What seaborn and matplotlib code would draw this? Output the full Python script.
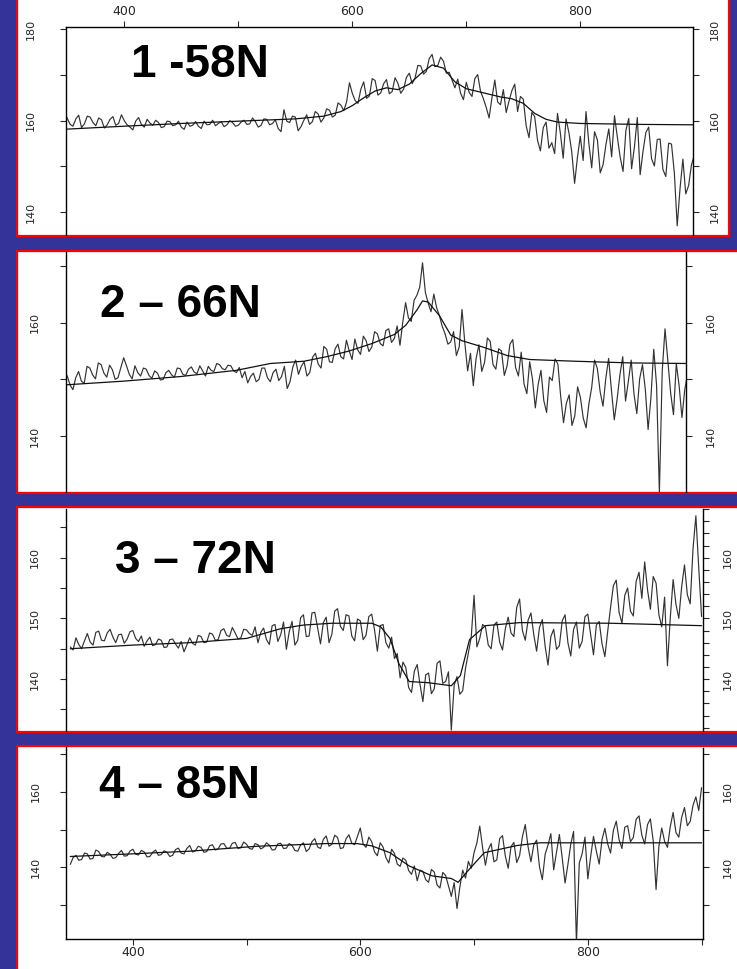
import matplotlib
matplotlib.use("Agg")
import matplotlib.pyplot as plt
from matplotlib.patches import Rectangle
import seaborn as sns
import pandas as pd

# ---------------- data ----------------
# wavelength grid (nm), 2.5 nm sampling from 345 to 900
wavelength = [345 + 2.5 * k for k in range(223)]

p1_obs = [159.0, 161.8, 160.5, 159.2, 158.8, 160.4, 161.2, 158.5, 159.3, 161.0,
          160.8, 159.6, 158.9, 160.6, 160.2, 158.4, 159.1, 160.3, 160.9, 159.0,
          159.4, 161.3, 160.0, 159.1, 158.6, 158.0, 159.9, 160.7, 159.2, 158.6,
          160.3, 159.5, 159.0, 160.1, 159.6, 158.5, 158.7, 159.9, 159.8, 158.9,
          159.1, 159.9, 158.6, 158.1, 159.7, 158.8, 159.0, 159.8, 158.8, 158.3,
          159.9, 159.1, 159.2, 160.1, 158.9, 159.4, 159.8, 158.7, 159.1, 160.0,
          159.6, 158.8, 159.0, 159.7, 160.1, 159.2, 159.3, 160.6, 159.8, 158.6,
          159.0, 160.4, 160.3, 159.1, 159.4, 160.2, 158.3, 157.6, 162.4, 159.9,
          159.6, 161.0, 160.8, 157.8, 158.7, 160.1, 161.3, 159.2, 159.8, 162.0,
          161.5, 159.7, 160.6, 162.6, 162.3, 160.8, 161.2, 163.9, 163.4, 162.2,
          164.1, 168.3, 166.0, 164.4, 163.8, 166.9, 168.5, 164.9, 165.4, 169.2,
          168.8, 165.6, 166.1, 168.1, 169.0, 165.9, 166.4, 169.4, 168.2, 166.0,
          166.9, 169.5, 170.4, 168.1, 169.3, 172.1, 172.0, 170.2, 170.8, 173.6,
          174.5, 171.8, 172.1, 173.9, 173.0, 170.4, 170.6, 168.9, 167.2, 169.1,
          166.0, 164.6, 168.4, 166.2, 165.3, 169.2, 170.1, 166.4, 164.8, 162.9,
          160.6, 165.0, 168.9, 164.1, 163.5, 166.8, 161.8, 164.3, 166.6, 168.0,
          162.0, 165.3, 164.7, 158.9, 156.3, 161.8, 160.9, 155.7, 153.4, 158.5,
          159.7, 154.0, 155.2, 152.8, 161.6, 157.3, 151.8, 160.4, 157.4, 153.2,
          146.3, 152.0, 156.6, 151.3, 162.0, 155.1, 149.7, 157.6, 155.8, 148.6,
          150.4, 154.8, 158.2, 152.1, 161.1, 156.4, 152.0, 148.9, 157.9, 160.5,
          149.5, 154.3, 160.7, 148.2, 153.3, 157.4, 158.6, 151.7, 150.1, 155.9,
          156.0, 149.3, 147.8, 155.1, 154.9, 148.6, 137.0, 145.2, 151.6, 144.0,
          145.8, 150.3, 152.5]
p1_fit_x = [345, 400, 450, 500, 550, 575, 590, 600, 610, 620, 630, 640, 650, 660, 670, 680,
            690, 700, 710, 720, 730, 740, 750, 760, 770, 780, 800, 850, 900]
p1_fit = [158.1, 158.8, 159.4, 159.9, 160.4, 161.0, 162.0, 163.3, 165.0, 166.5, 167.2, 166.8,
          168.0, 170.3, 172.2, 171.5, 168.5, 167.0, 166.4, 165.8, 165.2, 164.8, 163.8, 161.6,
          160.3, 159.7, 159.4, 159.2, 159.1]

p2_obs = [149.5, 151.2, 150.6, 149.0, 148.2, 150.3, 151.4, 149.7, 149.3, 152.3,
          152.0, 150.8, 150.1, 152.9, 152.6, 151.1, 150.4, 152.5, 151.7, 150.0,
          150.3, 152.1, 153.8, 152.4, 150.9, 150.1, 152.4, 151.2, 150.6, 152.0,
          151.8, 150.7, 150.2, 151.5, 151.1, 149.9, 150.0, 151.2, 151.6, 150.8,
          150.4, 152.0, 151.9, 150.9, 150.7, 151.8, 152.2, 151.3, 151.0, 152.4,
          151.5, 150.6, 152.3, 151.6, 151.4, 152.8, 152.6, 151.9, 151.7, 152.5,
          152.4, 151.5, 151.2, 152.1, 150.3, 151.4, 149.4, 150.5, 151.1, 149.6,
          150.0, 152.0, 152.0, 150.3, 149.6, 151.2, 151.8, 149.8, 150.5, 152.3,
          148.4, 149.6, 152.2, 153.4, 150.9, 152.3, 153.1, 150.6, 151.2, 153.9,
          154.6, 152.7, 152.0, 155.8, 155.3, 153.1, 153.0, 155.4, 156.2, 154.0,
          153.6, 156.9, 155.0, 153.5, 157.1, 155.2, 154.4, 157.6, 156.8, 154.9,
          155.7, 158.4, 158.0, 156.3, 155.9, 158.6, 158.9, 156.5, 157.2, 159.4,
          156.0, 160.1, 163.5, 160.8, 160.2, 163.9, 164.8, 166.2, 170.5, 165.3,
          163.4, 161.9, 165.0, 162.6, 161.2, 159.3, 158.0, 156.2, 156.6, 158.4,
          154.2, 155.7, 162.3, 156.4, 151.5, 154.6, 148.9, 153.7, 156.1, 151.4,
          153.0, 157.3, 156.7, 152.6, 151.8, 155.4, 155.0, 150.7, 152.4, 156.2,
          157.0, 152.1, 150.6, 154.8, 149.2, 147.5, 153.1, 150.0, 145.0, 149.1,
          151.6, 146.3, 144.2, 150.4, 149.8, 153.6, 152.7, 147.0, 142.4, 145.8,
          147.3, 141.9, 143.6, 148.7, 146.8, 143.2, 141.5, 145.7, 148.6, 153.4,
          151.9, 147.8, 145.3, 150.2, 153.7, 148.1, 142.9, 146.5, 150.8, 154.0,
          146.2, 149.7, 153.4, 147.4, 144.0, 150.1, 152.6, 148.3, 141.2, 146.8,
          155.3, 149.0, 130.0, 151.4, 158.9, 153.3, 147.6, 143.8, 152.8, 148.9,
          143.3, 148.2, 151.0]
p2_fit_x = [345, 400, 450, 500, 530, 560, 580, 600, 620, 640, 650, 660, 665, 670, 680, 690,
            700, 720, 740, 760, 800, 850, 900]
p2_fit = [149.0, 149.7, 150.5, 151.6, 152.8, 153.2, 154.0, 155.0, 156.3, 157.9, 159.5, 162.2,
          163.8, 163.6, 161.2, 157.8, 156.8, 155.6, 154.2, 153.5, 153.2, 152.9, 152.8]

p3_obs = [145.3, 144.8, 146.8, 145.7, 145.0, 146.3, 147.5, 146.1, 145.6, 147.7,
          147.9, 146.4, 146.3, 147.6, 148.2, 146.9, 146.0, 147.3, 147.4, 145.9,
          146.6, 147.8, 148.0, 146.7, 146.2, 147.1, 145.4, 146.3, 146.9, 145.5,
          145.7, 146.6, 146.4, 145.2, 145.3, 146.5, 146.6, 145.8, 145.1, 146.2,
          144.5, 145.6, 146.8, 145.9, 145.6, 147.2, 147.0, 146.0, 146.1, 147.6,
          147.4, 146.4, 146.5, 148.0, 148.3, 147.2, 147.0, 148.5, 147.6, 146.6,
          146.8, 148.2, 148.1, 147.5, 147.2, 148.6, 146.0, 147.7, 148.4, 146.5,
          145.7, 148.8, 149.0, 146.2, 147.3, 149.4, 144.9, 147.8, 149.5, 145.6,
          146.4, 150.1, 150.6, 147.0, 147.1, 150.9, 151.0, 148.4, 145.8, 149.3,
          150.2, 146.0, 147.4, 151.2, 151.6, 148.7, 148.0, 150.6, 150.4, 147.1,
          146.3, 149.9, 149.6, 146.5, 147.2, 150.3, 150.7, 148.1, 144.6, 148.8,
          149.0, 146.0, 145.1, 146.9, 143.4, 144.2, 140.2, 142.8, 141.9, 138.6,
          137.8, 141.3, 142.4, 139.1, 136.3, 140.7, 141.0, 137.6, 138.4, 142.6,
          143.0, 139.3, 139.6, 141.2, 131.6, 139.0, 140.4, 137.5, 138.1, 141.8,
          144.3, 146.9, 153.8, 145.3, 146.7, 149.0, 148.6, 145.6, 145.0, 148.9,
          149.4, 146.1, 144.8, 148.3, 150.2, 147.6, 147.0, 151.8, 153.2, 148.0,
          146.4, 149.7, 150.9, 147.3, 144.6, 148.5, 149.8, 145.4, 142.3, 147.0,
          148.2, 144.9, 145.5, 149.6, 150.6, 146.0, 143.8, 148.2, 149.4, 145.1,
          146.2, 150.3, 150.7, 147.4, 144.0, 148.9, 149.5, 145.8, 143.7, 147.9,
          151.8, 155.4, 156.3, 151.0, 149.2, 153.8, 155.0, 151.2, 150.4, 156.1,
          157.6, 153.3, 159.3, 154.7, 151.5, 156.9, 155.8, 150.6, 148.6, 153.5,
          142.2, 150.1, 156.4, 152.3, 150.0, 155.2, 158.8, 153.9, 152.4, 161.5,
          166.9, 158.4, 150.3]
p3_fit_x = [345, 400, 450, 500, 530, 550, 575, 610, 618, 626, 634, 643, 660, 680, 688, 696,
            710, 740, 820, 900]
p3_fit = [145.0, 145.6, 146.0, 146.7, 148.3, 148.9, 149.2, 149.2, 148.6, 146.7, 142.5, 139.6,
          139.4, 138.9, 140.6, 146.5, 148.8, 149.3, 149.2, 148.8]

p4_obs = [140.8, 142.6, 143.2, 141.9, 142.1, 143.8, 143.6, 142.2, 142.4, 144.6,
          144.2, 142.9, 142.8, 144.0, 143.5, 142.4, 142.6, 143.7, 144.5, 143.0,
          143.1, 144.3, 144.8, 143.5, 143.3, 144.5, 144.1, 142.8, 142.9, 144.0,
          144.6, 143.2, 143.4, 144.4, 144.0, 142.9, 143.2, 144.7, 145.1, 143.8,
          143.6, 145.0, 145.8, 144.1, 144.4, 145.6, 145.3, 144.0, 144.2, 145.7,
          146.0, 144.6, 144.9, 146.2, 146.3, 145.1, 145.0, 146.4, 146.6, 145.0,
          145.2, 146.7, 146.1, 145.0, 144.8, 146.3, 146.0, 144.9, 145.3, 146.5,
          145.9, 144.6, 144.7, 146.2, 146.4, 145.0, 145.1, 146.3, 145.8, 144.5,
          144.3, 145.9, 146.5, 144.2, 144.9, 146.8, 147.6, 145.4, 145.0, 147.4,
          148.3, 145.6, 146.1, 148.5, 147.9, 145.0, 145.2, 147.6, 148.6, 146.4,
          146.0, 148.2, 150.4, 146.2, 145.3, 148.0, 146.8, 144.1, 143.1, 146.5,
          145.4, 142.6, 141.2, 144.8, 143.7, 140.9, 140.3, 142.5, 141.9, 139.2,
          138.2, 140.4, 136.5, 139.3, 139.0, 136.8, 136.1, 139.5, 138.8, 135.4,
          134.6, 138.7, 137.9, 135.1, 132.4, 136.0, 129.2, 134.8, 139.3, 137.2,
          141.6, 139.8, 143.9, 146.5, 150.9, 145.2, 140.6, 144.7, 146.3, 141.5,
          142.0, 147.6, 148.4, 143.0, 139.8, 145.5, 146.6, 141.3, 143.1, 148.1,
          151.3, 145.4, 141.5, 146.0, 147.2, 140.2, 136.8, 143.5, 145.9, 148.9,
          139.4, 144.1, 148.7, 142.5, 135.9, 140.8, 146.1, 149.5, 120.0, 141.2,
          143.6, 148.0, 137.0, 142.9, 148.2, 144.3, 140.9, 147.4, 150.3, 146.2,
          143.8, 149.8, 152.2, 147.3, 145.0, 150.6, 151.0, 146.8, 147.9, 152.7,
          153.6, 148.5, 146.2, 151.3, 152.8, 147.0, 134.2, 145.6, 150.4, 146.9,
          145.3, 150.8, 154.5, 149.2, 148.0, 153.2, 155.8, 151.0, 152.1, 156.4,
          158.6, 155.0, 161.0]
p4_fit_x = [345, 400, 450, 510, 570, 597, 610, 626, 643, 663, 680, 686, 696, 709, 738, 758, 900]
p4_fit = [142.9, 143.6, 144.3, 145.6, 146.3, 146.3, 145.7, 143.9, 140.4, 137.8, 137.1, 136.1,
          139.6, 143.9, 145.8, 146.5, 146.5]

titles = ["1 -58N", "2 \u2013 66N", "3 \u2013 72N", "4 \u2013 85N"]

# ---------------- style ----------------
sns.set_style("white")
plt.rcParams['font.family'] = ['DejaVu Sans']

BG = '#333399'
W, H = 737, 969
fig = plt.figure(figsize=(W / 100, H / 100), dpi=100, facecolor=BG)


def fx(px):
    return px / W


def fy(py):
    return 1 - py / H


# red-bordered white panels (pixel boxes: x0, x1, top, bottom)
panel_boxes = [(17, 729, -5, 236), (17, 760, 250.7, 492.7),
               (17, 760, 507, 732.3), (17, 760, 746, 990)]
for x0, x1, t, b in panel_boxes:
    fig.add_artist(Rectangle((fx(x0), fy(b)), fx(x1) - fx(x0), fy(t) - fy(b),
                             transform=fig.transFigure, facecolor='white',
                             edgecolor='#ff0000', linewidth=1.6, zorder=0))

# axes specs: left, right, top, bottom (px), xlim, ylim
axes_specs = [
    dict(box=(65.7, 692.7, 27, 235), xlim=(348.6, 898.6), ylim=(135.0, 180.5)),
    dict(box=(65.7, 686, 252, 491.5), xlim=(348.6, 898.6), ylim=(130.3, 172.4)),
    dict(box=(65.7, 702.7, 508.5, 731), xlim=(341, 901), ylim=(131.45, 168.1)),
    dict(box=(65.7, 702.7, 747.5, 938.5), xlim=(341, 901), ylim=(121.3, 171.6)),
]
obs_all = [p1_obs, p2_obs, p3_obs, p4_obs]
fit_x_all = [p1_fit_x, p2_fit_x, p3_fit_x, p4_fit_x]
fit_all = [p1_fit, p2_fit, p3_fit, p4_fit]

ytick_left = [
    ([140, 150, 160, 170, 180], ['140', '', '160', '', '180']),
    ([140, 150, 160, 170], ['140', '', '160', '']),
    ([135, 140, 145, 150, 155, 160, 165], ['', '140', '', '150', '', '160', '']),
    ([130, 140, 150, 160, 170], ['', '140', '', '160', '']),
]
r3_ticks = list(range(132, 169, 2))
r3_labels = [str(v) if v in (140, 150, 160) else '' for v in r3_ticks]
ytick_right = [ytick_left[0], ytick_left[1], (r3_ticks, r3_labels), ytick_left[3]]
left_pad = [17.0, 14.0, 14.0, 13.5]
right_pad = [8.0, 10.0, 10.0, 10.0]
title_pos = [(131, 77), (100, 317), (115, 573), (99, 798)]

TL = 4.3
for i, spec in enumerate(axes_specs):
    l, r, t, b = spec['box']
    ax = fig.add_axes([fx(l), fy(b), fx(r) - fx(l), fy(t) - fy(b)])
    ax.set_facecolor('none')
    df = pd.DataFrame({'wavelength': wavelength, 'value': obs_all[i]})
    sns.lineplot(data=df, x='wavelength', y='value', ax=ax, color='#333333',
                 linewidth=0.85, estimator=None, sort=False)
    dff = pd.DataFrame({'wavelength': fit_x_all[i], 'value': fit_all[i]})
    sns.lineplot(data=dff, x='wavelength', y='value', ax=ax, color='#111111',
                 linewidth=0.9, estimator=None, sort=False)
    ax.set_xlim(*spec['xlim'])
    ax.set_ylim(*spec['ylim'])
    ax.set_xlabel('')
    ax.set_ylabel('')
    for s in ax.spines.values():
        s.set_color('black')
        s.set_linewidth(1.0)
    ax.spines['right'].set_visible(False)
    ax.spines['bottom'].set_visible(i == 3)
    ax.spines['top'].set_visible(i == 0)

    # x axis
    if i == 0:
        ax.xaxis.set_ticks_position('top')
        ax.set_xticks([400, 500, 600, 700, 800], ['400', '', '600', '', '800'])
        ax.tick_params(axis='x', top=True, bottom=False, labeltop=True, labelbottom=False,
                       direction='out', length=TL, width=0.8, pad=2, labelsize=9)
    elif i == 3:
        ax.set_xticks([400, 500, 600, 700, 800, 900], ['400', '', '600', '', '800', ''])
        ax.tick_params(axis='x', bottom=True, top=False, direction='out', length=TL,
                       width=0.8, pad=1, labelsize=9)
    else:
        ax.set_xticks([])

    # left y axis
    yt, yl = ytick_left[i]
    ax.set_yticks(yt, yl)
    ax.tick_params(axis='y', left=True, direction='out', length=TL, width=0.8,
                   pad=left_pad[i], labelsize=8, labelrotation=90)
    for lab in ax.get_yticklabels():
        lab.set_va('center')

    # right y axis
    sec = ax.secondary_yaxis('right')
    yt, yl = ytick_right[i]
    sec.set_yticks(yt, yl)
    sec.spines['right'].set_linewidth(1.0)
    sec.spines['right'].set_color('black')
    sec.tick_params(axis='y', direction='out', length=TL, width=0.8,
                    pad=right_pad[i], labelsize=8, labelrotation=90)
    for lab in sec.get_yticklabels():
        lab.set_va('center')

    tx, ty = title_pos[i]
    fig.text(fx(tx), fy(ty), titles[i], fontsize=33, fontweight='bold',
             family=['Liberation Sans', 'DejaVu Sans'], ha='left', va='baseline',
             color='black')

fig.savefig('out.png', dpi=100, facecolor=BG)
